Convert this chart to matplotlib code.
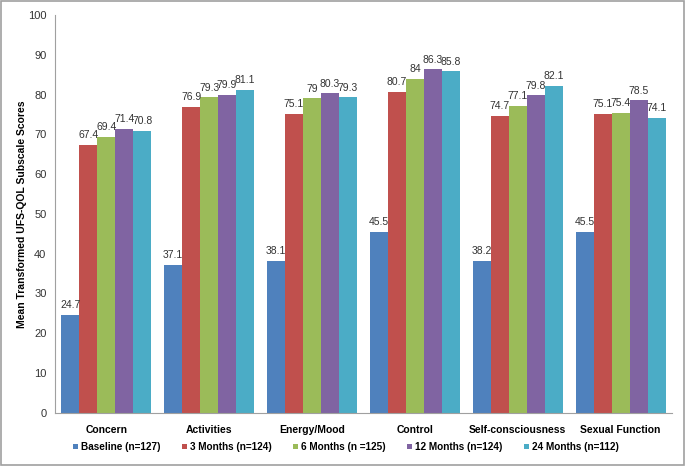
import matplotlib
matplotlib.use("Agg")
import matplotlib.pyplot as plt
import numpy as np
from matplotlib.patches import Rectangle

categories = ["Concern", "Activities", "Energy/Mood", "Control", "Self-consciousness", "Sexual Function"]
series_names = ["Baseline (n=127)", "3 Months (n=124)", "6 Months (n =125)", "12 Months (n=124)", "24 Months (n=112)"]
baseline = [24.7, 37.1, 38.1, 45.5, 38.2, 45.5]
m3 = [67.4, 76.9, 75.1, 80.7, 74.7, 75.1]
m6 = [69.4, 79.3, 79, 84, 77.1, 75.4]
m12 = [71.4, 79.9, 80.3, 86.3, 79.8, 78.5]
m24 = [70.8, 81.1, 79.3, 85.8, 82.1, 74.1]
series = [baseline, m3, m6, m12, m24]
colors = ["#4F81BD", "#C0504D", "#9BBB59", "#8064A2", "#4BACC6"]

plt.rcParams['font.family'] = ['Liberation Sans', 'DejaVu Sans']

fig = plt.figure(figsize=(6.85, 4.66), dpi=100)
ax = fig.add_axes([0.080, 0.114, 0.901, 0.854])

x = np.arange(len(categories))
w = 0.175
for i, (vals, c, name) in enumerate(zip(series, colors, series_names)):
    pos = x + (i - 2) * w
    ax.bar(pos, vals, width=w, color=c, label=name, edgecolor='none')
    for p, v in zip(pos, vals):
        ax.text(p, v + 1.2, f"{v:g}", ha='center', va='bottom', fontsize=7.5, color='#333333')

ax.set_xlim(-0.5, len(categories) - 0.5)
ax.set_ylim(0, 100)
ax.set_yticks(range(0, 101, 10))
ax.set_xticks(x)
ax.set_xticklabels(categories, fontsize=7.5, fontweight='bold')
ax.tick_params(axis='y', labelsize=8, length=0, pad=6, colors='#333333')
ax.tick_params(axis='x', length=0, pad=9)
for s in ['top', 'right']:
    ax.spines[s].set_visible(False)
ax.spines['left'].set_color('#A0A0A0')
ax.spines['bottom'].set_color('#A0A0A0')
ax.set_ylabel("Mean Transformed UFS-QOL Subscale Scores", fontsize=7.5, fontweight='bold')
ax.yaxis.set_label_coords(-0.045, 0.5)

fig.legend(loc='lower center', bbox_to_anchor=(0.505, 0.01), ncol=5, frameon=False,
           handlelength=0.45, handleheight=0.45, handletextpad=0.3, columnspacing=2.2,
           prop={'weight': 'bold', 'size': 7.2})

fig.patches.append(Rectangle((0.002, 0.002), 0.996, 0.996, transform=fig.transFigure,
                             fill=False, edgecolor='#A0A0A0', linewidth=1.2))

fig.savefig("out.png", dpi=100)
